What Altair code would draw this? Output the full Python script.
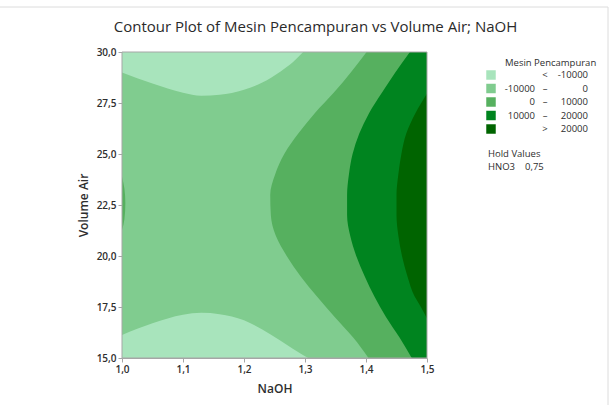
import altair as alt
import pandas as pd

FONT = "Open Sans"
TEXT_COLOR = "#2e2e2e"
TITLE = "Contour Plot of Mesin Pencampuran vs Volume Air; NaOH"

# Factor ranges
NAOH_RANGE = [1.0, 1.5]
AIR_RANGE = [15.0, 30.0]
X_TICKS = [1.0, 1.1, 1.2, 1.3, 1.4, 1.5]
Y_TICKS = [15.0, 17.5, 20.0, 22.5, 25.0, 27.5, 30.0]

# Band colours, lowest to highest response
COLORS = ["#A8E4BC", "#80CC8F", "#56B05F", "#00841F", "#006400"]

# -10000 contour near the top edge (NaOH -> Volume Air)
TOP_NAOH = [1.00, 1.05, 1.10, 1.13, 1.16, 1.20, 1.23, 1.26, 1.28, 1.297]
TOP_AIR = [29.0, 28.45, 28.0, 27.85, 27.9, 28.15, 28.5, 29.05, 29.5, 30.0]

# -10000 contour near the bottom edge
BOT_NAOH = [1.00, 1.05, 1.10, 1.13, 1.16, 1.20, 1.23, 1.26, 1.28, 1.305]
BOT_AIR = [16.13, 16.7, 17.12, 17.22, 17.15, 16.85, 16.4, 15.85, 15.45, 15.0]

# 0 and 10000 contours (Volume Air -> NaOH)
AIR_LEVELS = [15, 16, 17, 18, 19, 20, 21, 22, 23, 24, 25, 26, 27, 28, 29, 30]
EDGE_0 = [1.404, 1.379, 1.349, 1.320, 1.293, 1.270, 1.252, 1.244, 1.243,
          1.251, 1.266, 1.289, 1.316, 1.347, 1.375, 1.401]
EDGE_10000 = [1.475, 1.455, 1.433, 1.414, 1.398, 1.384, 1.374, 1.369, 1.369,
              1.372, 1.378, 1.389, 1.405, 1.426, 1.448, 1.472]

# 20000 contour, meets the right edge at both ends
DARK_AIR = [16.94, 17.5, 18, 19, 20, 21, 22, 23, 24, 25, 26, 27, 27.97]
EDGE_20000 = [1.5, 1.490, 1.480, 1.468, 1.459, 1.453, 1.450, 1.450, 1.453,
              1.458, 1.466, 1.481, 1.5]

# small 0 contour touching the left edge
SLIVER_AIR = [21.27, 21.8, 22.6, 23.3, 23.89]
SLIVER_NAOH = [1.0, 1.004, 1.0055, 1.004, 1.0]

# Legend text
LEGEND_TITLE = "Mesin Pencampuran"
LEGEND_LO = ["", "-10000", "0", "10000", ""]
LEGEND_SEP = ["<", "\u2013", "\u2013", "\u2013", ">"]
LEGEND_HI = ["-10000", "0", "10000", "20000", "20000"]

label_expr = "replace(datum.label, '.', ',')"
x_scale = alt.Scale(domain=NAOH_RANGE, nice=False, zero=False)
y_scale = alt.Scale(domain=AIR_RANGE, nice=False, zero=False)

x_axis = alt.Axis(values=X_TICKS, format=".1f", labelExpr=label_expr, grid=False,
                  labelFlush=False, title="NaOH", titlePadding=9)
y_axis = alt.Axis(values=Y_TICKS, format=".1f", labelExpr=label_expr, grid=False,
                  labelFlush=False, title="Volume Air", titlePadding=6)


def X(field):
    return alt.X(field, scale=x_scale, axis=x_axis)


def Y(field):
    return alt.Y(field, scale=y_scale, axis=y_axis)


frame = pd.DataFrame({"x0": [NAOH_RANGE[0]], "x1": [NAOH_RANGE[1]],
                      "y0": [AIR_RANGE[0]], "y1": [AIR_RANGE[1]]})
base = alt.Chart(frame).mark_rect(color=COLORS[1]).encode(
    x=X("x0:Q"), x2="x1:Q", y=Y("y0:Q"), y2="y1:Q",
)
outline = alt.Chart(frame).mark_rect(fillOpacity=0, stroke="#a6a6a6", strokeWidth=1).encode(
    x=X("x0:Q"), x2="x1:Q", y=Y("y0:Q"), y2="y1:Q",
)

top_df = pd.DataFrame({"naoh": TOP_NAOH, "air": TOP_AIR, "air_top": AIR_RANGE[1]})
top_light = alt.Chart(top_df).mark_area(color=COLORS[0], interpolate="monotone").encode(
    x=X("naoh:Q"), y=Y("air:Q"), y2="air_top:Q",
)

bot_df = pd.DataFrame({"naoh": BOT_NAOH, "air": BOT_AIR, "air_bot": AIR_RANGE[0]})
bot_light = alt.Chart(bot_df).mark_area(color=COLORS[0], interpolate="monotone").encode(
    x=X("naoh:Q"), y=Y("air:Q"), y2="air_bot:Q",
)


def right_band(air, edge, color):
    df = pd.DataFrame({"air": air, "edge": edge, "right": NAOH_RANGE[1]})
    return alt.Chart(df).mark_area(color=color, orient="horizontal",
                                   interpolate="monotone").encode(
        y=Y("air:Q"), x=X("edge:Q"), x2="right:Q",
    )


band_0 = right_band(AIR_LEVELS, EDGE_0, COLORS[2])
band_10000 = right_band(AIR_LEVELS, EDGE_10000, COLORS[3])
band_20000 = right_band(DARK_AIR, EDGE_20000, COLORS[4])

sliver_df = pd.DataFrame({"air": SLIVER_AIR, "edge": SLIVER_NAOH, "left": NAOH_RANGE[0]})
sliver = alt.Chart(sliver_df).mark_area(color=COLORS[2], orient="horizontal",
                                        interpolate="monotone").encode(
    y=Y("air:Q"), x=X("left:Q"), x2="edge:Q",
)

contours = alt.layer(base, top_light, bot_light, band_0, band_10000, band_20000,
                     sliver, outline)

# Legend drawn beside the plot
rows = list(range(len(COLORS)))
leg_df = pd.DataFrame({"row": rows, "lo": LEGEND_LO, "sep": LEGEND_SEP, "hi": LEGEND_HI})
leg_y = alt.Y("row:Q", scale=alt.Scale(domain=[0, len(rows) - 1], range=[23, 77]), axis=None)
leg_base = alt.Chart(leg_df)
swatches = leg_base.mark_square(size=90, opacity=1).encode(
    x=alt.value(369), y=leg_y,
    color=alt.Color("row:N", scale=alt.Scale(domain=rows, range=COLORS), legend=None),
)
txt = dict(font=FONT, fontSize=9.5, color=TEXT_COLOR, baseline="middle")
lo_text = leg_base.mark_text(align="right", **txt).encode(x=alt.value(413), y=leg_y, text="lo:N")
sep_text = leg_base.mark_text(align="center", **txt).encode(x=alt.value(423), y=leg_y, text="sep:N")
hi_text = leg_base.mark_text(align="right", **txt).encode(x=alt.value(466), y=leg_y, text="hi:N")


def label(text, x, y, **style):
    return alt.Chart(pd.DataFrame({"t": [text]})).mark_text(**style).encode(
        x=alt.value(x), y=alt.value(y), text="t:N")


leg_title = label(LEGEND_TITLE, 383, 11, align="left", **txt)
hold = label("Hold Values", 366, 102, align="left", **txt)
hno3 = label("HNO3", 366, 115, align="left", **txt)
hno3_val = label("0,75", 403, 115, align="left", **txt)

# chart heading, centred over the whole graph window
heading = label(TITLE, 193.5, -25, align="center", baseline="middle", font=FONT,
                fontSize=15, color="#2a2a2a")

# thin border of the graph window (top and right edges)
window_top = alt.Chart(pd.DataFrame({"k": [0]})).mark_rule(color="#dcdcdc", strokeWidth=1).encode(
    x=alt.value(-122), x2=alt.value(486), y=alt.value(-45))
window_right = alt.Chart(pd.DataFrame({"k": [0]})).mark_rule(color="#dcdcdc", strokeWidth=1).encode(
    x=alt.value(486), y=alt.value(-45), y2=alt.value(353))

legend = alt.layer(swatches, lo_text, sep_text, hi_text, leg_title, hold, hno3, hno3_val,
                   heading, window_top, window_right)

chart = alt.layer(contours, legend).resolve_scale(
    y="independent", color="independent"
).resolve_axis(
    y="independent"
).properties(
    width=305,
    height=306,
    autosize=alt.AutoSizeParams(type="none"),
    padding={"left": 122, "top": 52, "right": 187, "bottom": 47},
).configure_view(
    strokeWidth=0
).configure_axis(
    labelFont=FONT, labelFontSize=10, labelColor=TEXT_COLOR, labelFontWeight=600,
    titleFont=FONT, titleFontSize=12, titleColor=TEXT_COLOR, titleFontWeight=600,
    domainColor="#a6a6a6", tickColor="#a6a6a6", tickSize=4,
)

chart.save("out.html", embed_options={"renderer": "svg", "actions": False})
